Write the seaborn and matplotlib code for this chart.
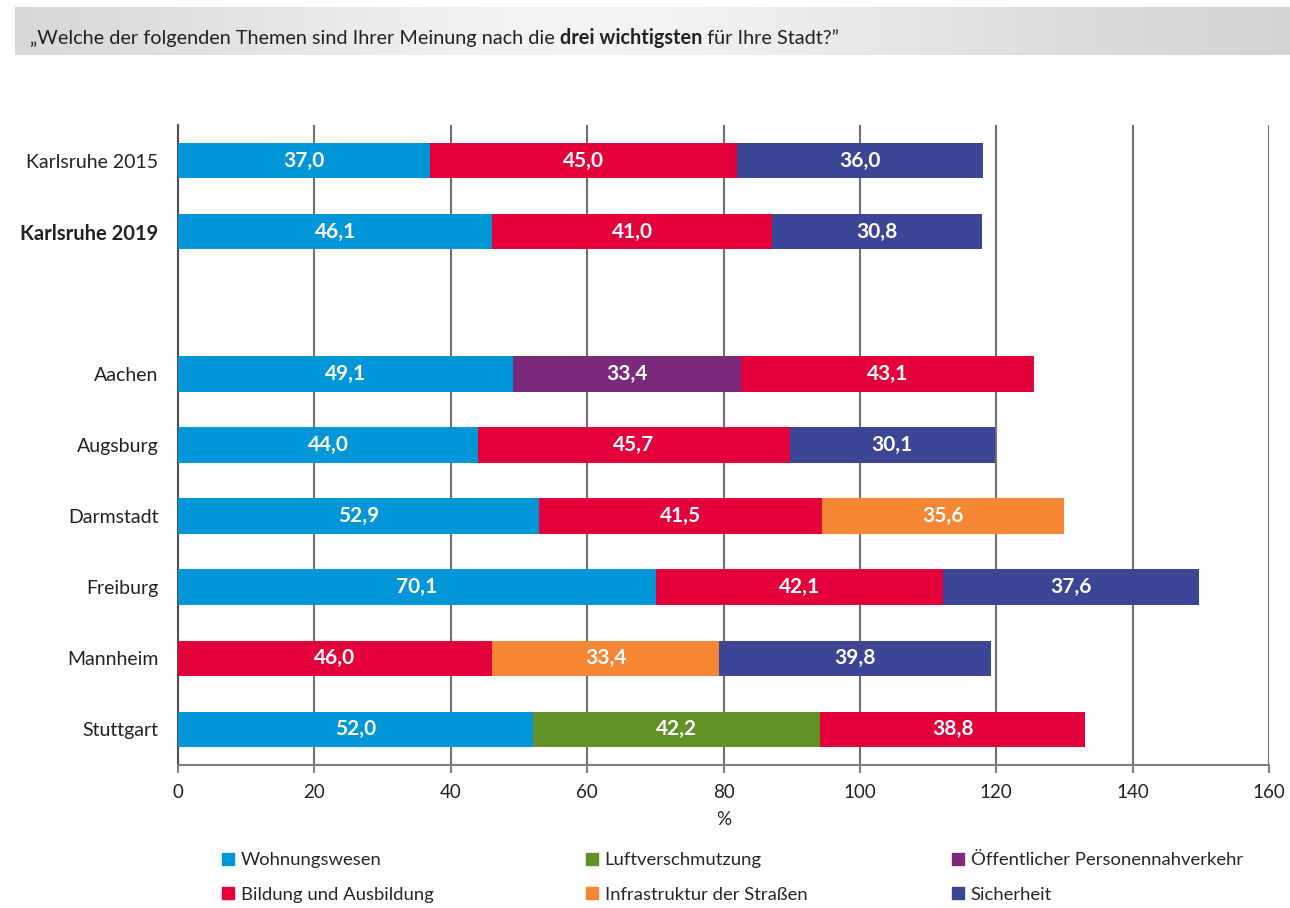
import numpy as np
import pandas as pd
import matplotlib
matplotlib.use("Agg")
import matplotlib.pyplot as plt
import seaborn as sns
from matplotlib.lines import Line2D

# ---------------- data ----------------
cities = ["Karlsruhe 2015", "Karlsruhe 2019", " ", "Aachen", "Augsburg",
          "Darmstadt", "Freiburg", "Mannheim", "Stuttgart"]
bar_cities = ["Karlsruhe 2015", "Karlsruhe 2019", "Aachen", "Augsburg",
              "Darmstadt", "Freiburg", "Mannheim", "Stuttgart"]
topic1 = ["Wohnungswesen", "Wohnungswesen", "Wohnungswesen", "Wohnungswesen",
          "Wohnungswesen", "Wohnungswesen", "Bildung und Ausbildung", "Wohnungswesen"]
value1 = [37.0, 46.1, 49.1, 44.0, 52.9, 70.1, 46.0, 52.0]
topic2 = ["Bildung und Ausbildung", "Bildung und Ausbildung",
          "Öffentlicher Personennahverkehr", "Bildung und Ausbildung",
          "Bildung und Ausbildung", "Bildung und Ausbildung",
          "Infrastruktur der Straßen", "Luftverschmutzung"]
value2 = [45.0, 41.0, 33.4, 45.7, 41.5, 42.1, 33.4, 42.2]
topic3 = ["Sicherheit", "Sicherheit", "Bildung und Ausbildung", "Sicherheit",
          "Infrastruktur der Straßen", "Sicherheit", "Sicherheit",
          "Bildung und Ausbildung"]
value3 = [36.0, 30.8, 43.1, 30.1, 35.6, 37.6, 39.8, 38.8]

topics = ["Wohnungswesen", "Bildung und Ausbildung", "Luftverschmutzung",
          "Infrastruktur der Straßen", "Öffentlicher Personennahverkehr", "Sicherheit"]
colors = ["#0096D8", "#E4003A", "#629226", "#F48634", "#7A2A7A", "#3C4495"]
palette = dict(zip(topics, colors))

xticks = [0, 20, 40, 60, 80, 100, 120, 140, 160]

# ---------------- figure ----------------
sns.set_theme(style="white")
plt.rcParams["font.family"] = ["Lato", "DejaVu Sans"]

W, H = 1290, 908
fig = plt.figure(figsize=(W / 100, H / 100), dpi=100)

# title bar with gradient
tax = fig.add_axes([15 / W, 1 - 55 / H, 1275 / W, 48 / H])
xs = np.linspace(0, 1, 400)
grad = 0.82 + 0.13 * np.exp(-((xs - 0.45) / 0.35) ** 2)
grad = np.tile(grad, (2, 1))
tax.imshow(grad, aspect="auto", cmap="gray", vmin=0, vmax=1, extent=[0, 1, 0, 1])
tax.set_axis_off()

ax = fig.add_axes([178 / W, 1 - 765 / H, (1269 - 178) / W, (765 - 125) / H])

segments = [
    (topic1, np.array(value1)),
    (topic2, np.array(value2)),
    (topic3, np.array(value3)),
]
cums = np.cumsum([s[1] for s in segments], axis=0)

for k in [2, 1, 0]:
    df = pd.DataFrame({"city": bar_cities, "cum": cums[k], "topic": segments[k][0]})
    sns.barplot(data=df, x="cum", y="city", hue="topic", order=cities,
                hue_order=topics, palette=palette, dodge=False, width=0.5,
                saturation=1, legend=False, orient="h", ax=ax, zorder=3,
                linewidth=0, edgecolor="none")

# value labels
for k in range(3):
    vals = segments[k][1]
    starts = cums[k] - vals
    for c, v, s in zip(bar_cities, vals, starts):
        yi = cities.index(c)
        ax.text(s + v / 2, yi, f"{v:.1f}".replace(".", ","), ha="center",
                va="center", color="white", fontsize=15, fontweight="bold",
                zorder=5)

ax.set_xlim(0, 160)
ax.set_ylim(8.5, -0.5)
ax.set_xticks(xticks)
ax.set_xticklabels([str(t) for t in xticks], fontsize=13.5, color="#222222")
ax.set_xlabel("%", fontsize=13.5, color="#222222", labelpad=7)
ax.set_ylabel("")
ax.grid(axis="x", color="#707070", linewidth=1.5, zorder=0)
ax.grid(axis="y", visible=False)
ax.set_axisbelow(True)
for sp in ["top", "right"]:
    ax.spines[sp].set_visible(False)
ax.spines["left"].set_color("#505050")
ax.spines["left"].set_linewidth(1.5)
ax.spines["bottom"].set_color("#808080")
ax.spines["bottom"].set_linewidth(1.5)
ax.tick_params(axis="x", direction="out", length=6, width=1.5, color="#808080",
               bottom=True, pad=8)
ax.tick_params(axis="y", length=0, pad=14)
for lab in ax.get_yticklabels():
    lab.set_fontsize(14)
    lab.set_color("#222222")
    if lab.get_text() == "Karlsruhe 2019":
        lab.set_fontweight("bold")
        lab.set_fontsize(14.5)

# title with bold part
fig.canvas.draw()
renderer = fig.canvas.get_renderer()
parts = [("„Welche der folgenden Themen sind Ihrer Meinung nach die ", "normal"),
         ("drei wichtigsten", "bold"),
         (" für Ihre Stadt?”", "normal")]
xpix = 30
for txt, wt in parts:
    t = fig.text(xpix / W, 1 - 38 / H, txt, fontsize=14.3, fontweight=wt,
                 color="#222222", va="center", ha="left")
    bb = t.get_window_extent(renderer=renderer)
    xpix += bb.width

# legends, three columns
cols = [[0, 1], [2, 3], [4, 5]]
xpos = [213, 577, 943]
for ci, idxs in zip(range(3), cols):
    handles = [Line2D([0], [0], marker="s", linestyle="none", markersize=9,
                      markerfacecolor=colors[i], markeredgecolor=colors[i])
               for i in idxs]
    labels = [topics[i] for i in idxs]
    fig.legend(handles, labels, loc="upper left",
               bbox_to_anchor=(xpos[ci] / W, 1 - 845 / H), frameon=False,
               fontsize=13.3, handlelength=0.8, handletextpad=0.3,
               labelspacing=1.0, borderaxespad=0)

fig.savefig("out.png", dpi=100)
